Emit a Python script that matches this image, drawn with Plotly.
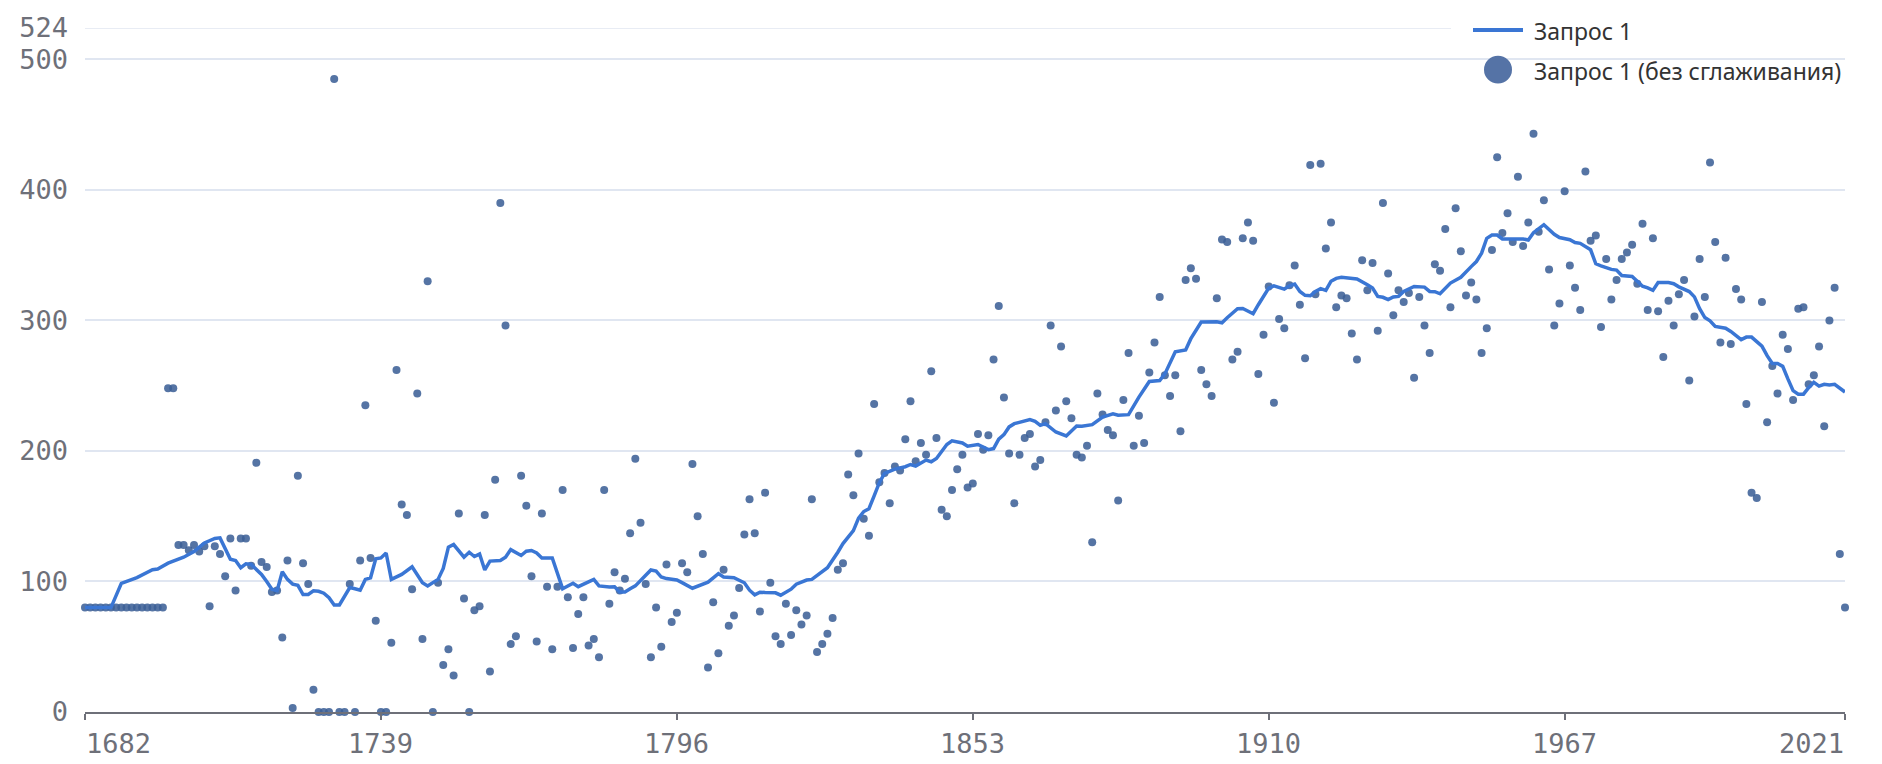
import plotly.graph_objects as go

# ---------------- data ----------------
years = list(range(1682, 2022))

raw_values = [
    # 1682-1697
    80, 80, 80, 80, 80, 80, 80, 80, 80, 80, 80, 80, 80, 80, 80, 80,
    # 1698-1739
    248, 248, 128, 128, 124, 128, 123, 127, 81, 127, 121, 104, 133, 93, 133, 133, 112, 191, 115, 111,
    92, 93, 57, 116, 3, 181, 114, 98, 17, 0, 0, 0, 485, 0, 0, 98, 0, 116, 235, 118, 70, 0,
    # 1740-1796
    0, 53, 262, 159, 151, 94, 244, 56, 330, 0, 99, 36, 48, 28, 152, 87, 0, 78, 81, 151,
    31, 178, 390, 296, 52, 58, 181, 158, 104, 54, 152, 96, 48, 96, 170, 88, 49, 75, 88, 51,
    56, 42, 170, 83, 107, 93, 102, 137, 194, 145, 98, 42, 80, 50, 113, 69, 76,
    # 1797-1852
    114, 107, 190, 150, 121, 34, 84, 45, 109, 66, 74, 95, 136, 163, 137, 77, 168, 99, 58, 52,
    83, 59, 78, 67, 74, 163, 46, 52, 60, 72, 109, 114, 182, 166, 198, 148, 135, 236, 176, 183,
    160, 188, 185, 209, 238, 192, 206, 197, 261, 210, 155, 150, 170, 186, 197, 172,
    # 1853-1909
    175, 213, 201, 212, 270, 311, 241, 198, 160, 197, 210, 213, 188, 193, 222, 296, 231, 280, 238, 225,
    197, 195, 204, 130, 244, 228, 216, 212, 162, 239, 275, 204, 227, 206, 260, 283, 318, 258, 242, 258,
    215, 331, 340, 332, 262, 251, 242, 317, 362, 360, 270, 276, 363, 375, 361, 259, 289,
    # 1910-1965
    326, 237, 301, 294, 327, 342, 312, 271, 419, 320, 420, 355, 375, 310, 319, 317, 290, 270, 346, 323,
    344, 292, 390, 336, 304, 323, 314, 321, 256, 318, 296, 275, 343, 338, 370, 310, 386, 353, 319, 329,
    316, 275, 294, 354, 425, 367, 382, 360, 410, 357, 375, 443, 368, 392, 339, 296,
    # 1966-2021
    313, 399, 342, 325, 308, 414, 361, 365, 295, 347, 316, 331, 347, 352, 358, 328, 374, 308, 363, 307,
    272, 315, 296, 320, 331, 254, 303, 347, 318, 421, 360, 283, 348, 282, 324, 316, 236, 168, 164, 314,
    222, 265, 244, 289, 278, 239, 309, 310, 251, 258, 280, 219, 300, 325, 121, 80,
]

line_years = [
    1682, 1687, 1689, 1691, 1692, 1695, 1696, 1698, 1700, 1701, 1703, 1705, 1707, 1708, 1710, 1711,
    1712, 1713, 1714, 1716, 1717, 1718, 1719, 1720, 1721, 1722, 1723, 1724, 1725, 1726, 1727, 1728,
    1729, 1730, 1731, 1733, 1734, 1735, 1736, 1737, 1738, 1739, 1740, 1741, 1743, 1745, 1747, 1748,
    1750, 1751, 1752, 1753, 1755, 1756, 1757, 1758, 1759, 1760, 1762, 1763, 1764, 1766, 1767, 1768,
    1769, 1770, 1772, 1773, 1774, 1776, 1777, 1780, 1781, 1783, 1784, 1785, 1786, 1787, 1788, 1790,
    1791, 1792, 1793, 1794, 1796, 1797, 1799, 1802, 1804, 1805, 1807, 1809, 1810, 1811, 1812, 1813,
    1815, 1816, 1818, 1819, 1821, 1822, 1825, 1827, 1828, 1830, 1831, 1832, 1833, 1834, 1835, 1836,
    1838, 1840, 1841, 1842, 1844, 1845, 1846, 1848, 1849, 1851, 1852, 1854, 1855, 1856, 1857, 1858,
    1859, 1860, 1861, 1862, 1864, 1865, 1866, 1867, 1869, 1871, 1873, 1874, 1876, 1878, 1880, 1881,
    1883, 1885, 1887, 1889, 1890, 1892, 1894, 1895, 1897, 1900, 1901, 1902, 1904, 1905, 1907, 1908,
    1909, 1910, 1911, 1912, 1913, 1914, 1915, 1916, 1917, 1918, 1919, 1920, 1921, 1922, 1923, 1924,
    1926, 1927, 1929, 1930, 1931, 1932, 1933, 1934, 1935, 1936, 1938, 1940, 1941, 1942, 1943, 1944,
    1945, 1947, 1948, 1949, 1950, 1951, 1952, 1953, 1954, 1955, 1956, 1958, 1959, 1960, 1961, 1963,
    1964, 1965, 1966, 1968, 1969, 1970, 1972, 1973, 1974, 1976, 1977, 1978, 1980, 1982, 1983, 1984,
    1985, 1987, 1988, 1989, 1991, 1992, 1993, 1994, 1995, 1996, 1998, 1999, 2001, 2002, 2003, 2005,
    2006, 2007, 2008, 2009, 2010, 2011, 2012, 2013, 2014, 2015, 2016, 2017, 2018, 2019, 2021,
]
line_values = [
    80, 80, 98.6, 101.5, 103, 109, 109.5, 114, 117.5, 118.6, 123, 129.5, 133, 133.4, 117, 116,
    110.5, 113.5, 113, 105.4, 100, 94, 93, 107.5, 101.6, 98, 97, 90, 90, 92.8, 92.5, 91,
    87.6, 82, 82, 95.3, 94.4, 93.3, 101.6, 102.8, 117.4, 118, 121.8, 101.6, 105.4, 111.3, 99, 96.6,
    101.6, 110, 126.3, 128.3, 118.6, 122.4, 119.1, 121, 108.8, 115.6, 116.1, 118.6, 124.4, 119.9, 123.2, 123.7,
    121.8, 118, 118, 105.4, 94.4, 98.6, 96, 101.6, 96.6, 95.8, 96, 92, 92, 94.4, 96.6, 104.7,
    108.8, 108, 103.4, 102.2, 101.1, 99.1, 94.8, 99.5, 106, 103.4, 102.9, 99, 93.3, 89.7, 91.8, 91.5,
    91.3, 89.5, 94.1, 97.9, 101.1, 101.6, 110.5, 122.4, 129, 138.9, 148.5, 153.6, 155.7, 165.6, 175.7, 182.8,
    186.1, 187.9, 189.6, 188.4, 193, 191.7, 194.2, 204.9, 207.7, 206.1, 203.6, 204.9, 203.1, 201, 201.8, 209,
    212.5, 218.4, 220.9, 222, 224, 222.7, 219.6, 220.9, 214.5, 211.5, 219.1, 218.9, 220.1, 226, 228.5, 227.3,
    227.8, 241.2, 253.2, 253.9, 259, 276, 277.3, 286, 298.7, 299, 298.2, 302, 308.9, 309.1, 305.1, 312,
    318, 324.8, 326.5, 325.5, 324, 326.5, 327.8, 322.2, 319.2, 318.9, 322.2, 324.3, 323, 330, 332.2, 333,
    331.7, 331.7, 327.3, 324.8, 318.4, 317.7, 315.9, 317.9, 318.4, 322.2, 326, 325.5, 322.2, 322, 320.4, 324.8,
    328.6, 333, 337.6, 341.2, 345.1, 351.5, 362.9, 365.4, 365.4, 362.4, 362.4, 362.6, 362.4, 361.6, 367.2, 373.3,
    369.2, 366, 363.5, 361.8, 359.6, 359, 354.1, 343.4, 341.8, 339.1, 338.5, 334.4, 333.6, 326.2, 324.9, 323,
    329, 329, 328.1, 325.7, 322.1, 318, 309, 302.2, 299.7, 295.4, 294, 291.5, 285.3, 287.2, 287.2, 280.3,
    273, 267, 267, 264.8, 255.2, 246.2, 243.5, 243.5, 248.4, 252.5, 249.7, 251.1, 250.6, 251.1, 245.1,
]

x_tick_values = [1682, 1739, 1796, 1853, 1910, 1967, 2021]
x_tick_labels = ["1682", "1739", "1796", "1853", "1910", "1967", "2021"]
y_tick_values = [0, 100, 200, 300, 400, 500, 524]
y_tick_labels = ["0", "100", "200", "300", "400", "500", "524"]

series_line_name = "Запрос 1"
series_dots_name = "Запрос 1 (без сглаживания)"

# ---------------- styling ----------------
W, H = 1882, 764
L, R, T, B = 85, 37, 23, 52
PW, PH = W - L - R, H - T - B

LINE_COLOR = "#3a76d4"
DOT_COLOR = "rgba(60,95,150,0.87)"
DOT_SOLID = "#5573a6"
AXIS_COLOR = "#6e7079"
GRID_COLOR = "#e0e6f1"
MONO = "DejaVu Sans Mono"


def px_x(p):
    return (p - L) / PW


def px_y(p):
    return (H - B - p) / PH


fig = go.Figure()
fig.add_trace(go.Scatter(
    x=years, y=raw_values, mode="markers", name=series_dots_name,
    marker=dict(size=8, color=DOT_COLOR, line=dict(width=0)),
    cliponaxis=False, showlegend=False,
))
fig.add_trace(go.Scatter(
    x=line_years, y=line_values, mode="lines", name=series_line_name,
    line=dict(color=LINE_COLOR, width=3.5), cliponaxis=False, showlegend=False,
))

annotations = []
for i, (v, t) in enumerate(zip(x_tick_values, x_tick_labels)):
    anchor = "left" if i == 0 else ("right" if i == len(x_tick_values) - 1 else "center")
    annotations.append(dict(
        x=v, xref="x", y=0, yref="paper", yanchor="top", xanchor=anchor,
        yshift=-14, xshift=(-1 if anchor == "left" else (1 if anchor == "right" else 0)),
        text=t, showarrow=False, font=dict(family=MONO, size=27, color=AXIS_COLOR),
    ))

# legend (drawn manually to match large symbol)
LEG_FONT = dict(family="Noto Sans", size=23, color="#333333")
annotations.append(dict(x=px_x(1532), y=px_y(26), xref="paper", yref="paper", xanchor="left",
                        yanchor="middle", text=series_line_name, showarrow=False, font=LEG_FONT))
annotations.append(dict(x=px_x(1532), y=px_y(66), xref="paper", yref="paper", xanchor="left",
                        yanchor="middle", text=series_dots_name, showarrow=False, font=LEG_FONT))

shapes = [
    # top gridline (value 524) that stops before the legend
    dict(type="line", xref="paper", yref="y", x0=0, x1=px_x(1451), y0=524, y1=524,
         line=dict(color=GRID_COLOR, width=1.5), layer="below"),
    dict(type="rect", xref="paper", yref="paper", x0=px_x(1451), x1=px_x(W), y0=px_y(100), y1=px_y(0),
         fillcolor="white", line=dict(width=0), layer="between"),
    dict(type="line", xref="paper", yref="paper", x0=px_x(1473), x1=px_x(1523), y0=px_y(25), y1=px_y(25),
         line=dict(color=LINE_COLOR, width=4), layer="above"),
    dict(type="circle", xref="paper", yref="paper", x0=px_x(1484), x1=px_x(1512), y0=px_y(79), y1=px_y(51),
         fillcolor=DOT_SOLID, line=dict(width=0), layer="above"),
]

fig.update_layout(
    width=W, height=H,
    margin=dict(l=L, r=R, t=T, b=B, pad=0),
    paper_bgcolor="white", plot_bgcolor="white",
    showlegend=False,
    annotations=annotations, shapes=shapes,
    xaxis=dict(
        range=[1682, 2021], tickmode="array", tickvals=x_tick_values, ticktext=x_tick_labels,
        showticklabels=False, showgrid=False, zeroline=False,
        showline=True, linecolor=AXIS_COLOR, linewidth=2,
        ticks="outside", ticklen=6, tickwidth=2, tickcolor=AXIS_COLOR,
    ),
    yaxis=dict(
        range=[0, 524], tickmode="array", tickvals=y_tick_values, ticktext=y_tick_labels,
        showgrid=True, gridcolor=GRID_COLOR, gridwidth=1.5, zeroline=False, showline=False,
        ticks="", ticklabelstandoff=16,
        tickfont=dict(family=MONO, size=27, color=AXIS_COLOR),
    ),
    hovermode="closest",
)

fig.write_html(
    "out.html",
    config={"displayModeBar": False},
    post_script="document.body.style.margin='0';document.body.style.overflow='hidden';",
)
